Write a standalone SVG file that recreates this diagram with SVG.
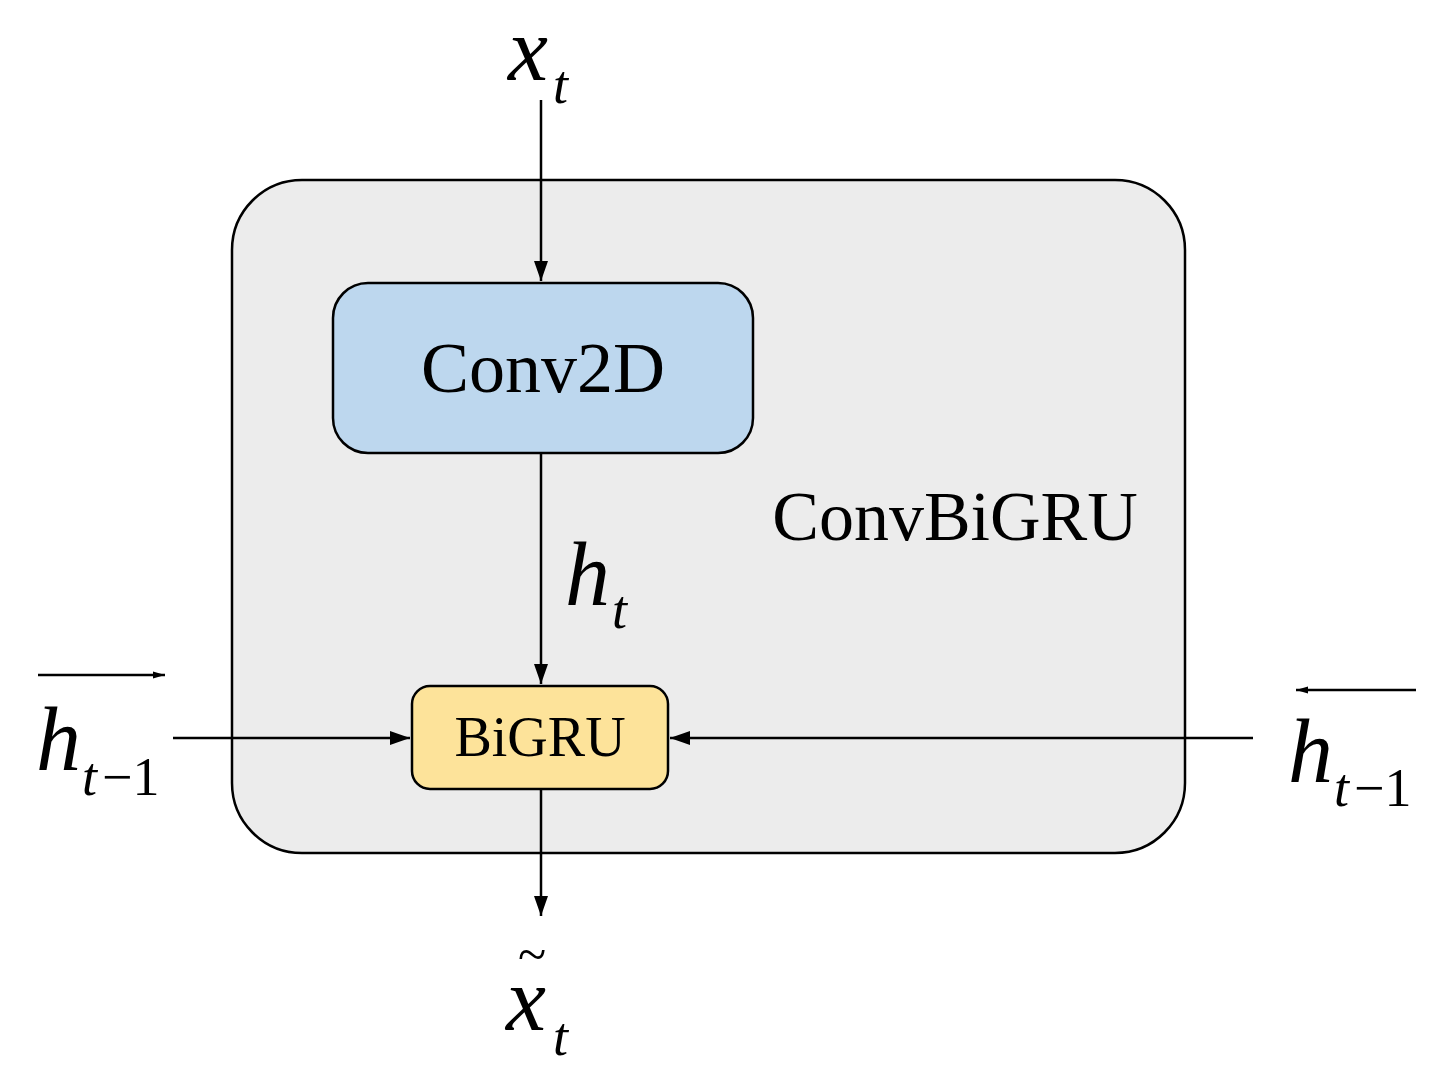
<svg xmlns="http://www.w3.org/2000/svg" width="1433" height="1087" viewBox="0 0 1433 1087">
<style>
.m{font-family:"Liberation Serif",serif;font-style:italic;fill:#000}
.r{font-family:"Liberation Serif",serif;fill:#000}
.c{stroke:#000;stroke-width:2.5;fill:none}
</style>
<defs>
<marker id="ah" viewBox="0 0 10 10" refX="10" refY="5" markerWidth="20" markerHeight="20" orient="auto" markerUnits="userSpaceOnUse"><path d="M0,1.5 L10,5 L0,8.5 z" fill="#000"/></marker>
<marker id="as" viewBox="0 0 10 10" refX="10" refY="5" markerWidth="12" markerHeight="12" orient="auto" markerUnits="userSpaceOnUse"><path d="M0,2 L10,5 L0,8 z" fill="#000"/></marker>
</defs>
<rect width="1433" height="1087" fill="#fff"/>
<g id="convbigru">
<rect x="232" y="180" width="953" height="673" rx="70" fill="#ececec" stroke="#000" stroke-width="2.5"/>
<text x="955" y="540" class="r" font-size="70" text-anchor="middle">ConvBiGRU</text>
</g>
<g id="conv2d">
<rect x="333" y="283" width="420" height="170" rx="35" fill="#bdd7ee" stroke="#000" stroke-width="2.5"/>
<text x="543" y="392" class="r" font-size="72" text-anchor="middle">Conv2D</text>
</g>
<g id="bigru">
<rect x="412" y="686" width="256" height="103" rx="18" fill="#fde39a" stroke="#000" stroke-width="2.5"/>
<text x="540" y="756" class="r" font-size="56" text-anchor="middle">BiGRU</text>
</g>
<g id="connectors">
<line class="c" x1="541" y1="100" x2="541" y2="281" marker-end="url(#ah)"/>
<line class="c" x1="541" y1="453" x2="541" y2="684" marker-end="url(#ah)"/>
<line class="c" x1="541" y1="789" x2="541" y2="916" marker-end="url(#ah)"/>
<line class="c" x1="173" y1="738" x2="410" y2="738" marker-end="url(#ah)"/>
<line class="c" x1="1253" y1="738" x2="670" y2="738" marker-end="url(#ah)"/>
</g>
<g id="labels">
<text x="508" y="80" class="m" font-size="90">x</text><text x="553" y="103" class="m" font-size="54">t</text>
<text x="565" y="605" class="m" font-size="90">h</text><text x="612" y="628" class="m" font-size="54">t</text>
<text x="518" y="972" class="r" font-size="52">~</text>
<text x="506" y="1030" class="m" font-size="90">x</text><text x="553" y="1055" class="m" font-size="54">t</text>
<text x="36" y="770" class="m" font-size="90">h</text><text x="82" y="795" class="m" font-size="54">t</text><text x="102" y="795" class="r" font-size="54">−1</text>
<line class="c" x1="38" y1="675" x2="165" y2="675" marker-end="url(#as)"/>
<text x="1288" y="782" class="m" font-size="90">h</text><text x="1334" y="806" class="m" font-size="54">t</text><text x="1354" y="806" class="r" font-size="54">−1</text>
<line class="c" x1="1416" y1="690" x2="1296" y2="690" marker-end="url(#as)"/>
</g>
</svg>
